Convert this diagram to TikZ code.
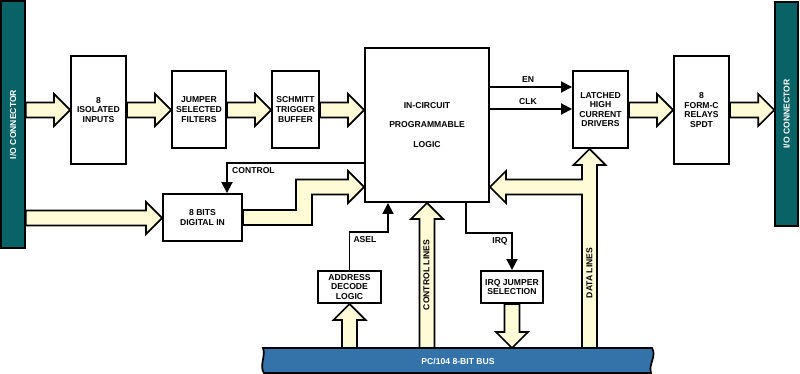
\documentclass[tikz,border=0pt]{standalone}
\usepackage{fontspec}
\setmainfont{Liberation Sans}
\usetikzlibrary{arrows.meta,calc}
\definecolor{conteal}{RGB}{8,98,102}
\definecolor{busblue}{RGB}{52,114,170}
\definecolor{cream}{RGB}{255,251,214}
\newcommand\fatR[3]{\draw[fat] let \p1=(#1), \p2=(#2), \p3=(#3) in
 (\x1,\y3+7.5pt) -- (\x2-16pt,\y3+7.5pt) -- (\x2-16pt,\y3+16pt) -- (\x2,\y3) -- (\x2-16pt,\y3-16pt) -- (\x2-16pt,\y3-7.5pt) -- (\x1,\y3-7.5pt) -- cycle;}
\newcommand\fatU[3]{\draw[fat] let \p1=(#1), \p2=(#2), \p3=(#3) in
 (\x3-7.5pt,\y1) -- (\x3-7.5pt,\y2-16pt) -- (\x3-16pt,\y2-16pt) -- (\x3,\y2) -- (\x3+16pt,\y2-16pt) -- (\x3+7.5pt,\y2-16pt) -- (\x3+7.5pt,\y1) -- cycle;}
\newcommand\fatD[3]{\draw[fat] let \p1=(#1), \p2=(#2), \p3=(#3) in
 (\x3-7.5pt,\y1) -- (\x3-7.5pt,\y2+16pt) -- (\x3-16pt,\y2+16pt) -- (\x3,\y2) -- (\x3+16pt,\y2+16pt) -- (\x3+7.5pt,\y2+16pt) -- (\x3+7.5pt,\y1) -- cycle;}
\tikzset{
  every node/.style={font=\fontsize{8.6}{9.6}\selectfont\bfseries},
  box/.style={draw, line width=1.9pt, fill=white, align=center, inner sep=0pt},
  fat/.style={draw, line width=1.7pt, fill=cream, line join=miter},
  sig/.style={line width=1.9pt, -{Triangle[length=11pt,width=11pt]}},
  lbl/.style={inner sep=0pt},
  conn/.style={draw=black, line width=1.5pt, fill=conteal, text=white, inner sep=0pt},
}
\begin{document}
\begin{tikzpicture}[x=1pt,y=-1pt]
\useasboundingbox (0,0) rectangle (800,374);
% level coordinates
\coordinate (rowY) at (0,110);
\coordinate (dinY) at (0,218);
\coordinate (midY) at (0,187);
\coordinate (stepX) at (304,0);
\coordinate (dX) at (589.5,0);
\coordinate (busT) at (0,348);
\coordinate (yEN) at (0,87);
\coordinate (yCLK) at (0,109);
\coordinate (cT) at (227,163);
\coordinate (aT) at (388,232);
\coordinate (iT) at (466,233);

% connectors and boxes
\node[conn, minimum width=24pt, minimum height=247pt] (lconn) at (13,124.5) {};
\node[text=white, rotate=90] at (lconn.center) {I/O CONNECTOR};
\node[conn, minimum width=23pt, minimum height=224pt] (rconn) at (786.5,114) {};
\node[text=white, rotate=90] at (rconn.center) {I/O CONNECTOR};

\node[box, minimum width=55pt, minimum height=108pt] (iso) at (98.5,110) {8\\ISOLATED\\INPUTS};
\node[box, minimum width=54pt, minimum height=77pt] (jmp) at (199,109.5) {JUMPER\\SELECTED\\FILTERS};
\node[box, minimum width=47pt, minimum height=77pt] (sch) at (295.5,109.5) {SCHMITT\\TRIGGER\\BUFFER};
\node[box, minimum width=124pt, minimum height=154pt] (pld) at (427,125) {IN-CIRCUIT\\[10pt]PROGRAMMABLE\\[10pt]LOGIC};
\node[box, minimum width=55pt, minimum height=77pt] (lat) at (600.5,109.5) {LATCHED\\HIGH\\CURRENT\\DRIVERS};
\node[box, minimum width=55pt, minimum height=108pt] (relay) at (701.5,110) {8\\FORM-C\\RELAYS\\SPDT};
\node[box, minimum width=79pt, minimum height=47pt] (din) at (202.5,217.5) {8 BITS\\DIGITAL IN};
\node[box, minimum width=63pt, minimum height=32pt] (adr) at (349.5,287) {ADDRESS\\DECODE\\LOGIC};
\node[box, minimum width=62pt, minimum height=32pt] (irqj) at (512,287) {IRQ JUMPER\\SELECTION};

% fat arrows
\fatR{lconn.east}{iso.west}{rowY}
\fatR{iso.east}{jmp.west}{rowY}
\fatR{jmp.east}{sch.west}{rowY}
\fatR{sch.east}{pld.west}{rowY}
\fatR{lat.east}{relay.west}{rowY}
\fatR{relay.east}{rconn.west}{rowY}
\fatR{lconn.east}{din.west}{dinY}
\draw[fat] let \p1=(din.east), \p2=(pld.west), \p3=(midY), \p4=(stepX) in
 (\x1,\y1-7.5pt) -- (\x4+8pt,\y1-7.5pt) -- (\x4+8pt,\y3-7.5pt) -- (\x2-16pt,\y3-7.5pt) -- (\x2-16pt,\y3-16pt) -- (\x2,\y3) -- (\x2-16pt,\y3+16pt) -- (\x2-16pt,\y3+7.5pt) -- (\x4-8pt,\y3+7.5pt) -- (\x4-8pt,\y1+7.5pt) -- (\x1,\y1+7.5pt) -- cycle;
\fatU{adr.south |- busT}{adr.south}{adr.south}
\fatU{pld.south |- busT}{pld.south}{pld.south}
\fatD{irqj.south}{irqj.south |- busT}{irqj.south}
\draw[fat] let \p1=(busT), \p2=(lat.south), \p3=(pld.east), \p4=(midY), \p5=(dX) in
 (\x5-7.5pt,\y1) -- (\x5-7.5pt,\y4-7.5pt) -- (\x3+16pt,\y4-7.5pt) -- (\x3+16pt,\y4-16pt) -- (\x3,\y4) -- (\x3+16pt,\y4+16pt) -- (\x3+16pt,\y4+7.5pt) -- (\x5-7.5pt,\y4+7.5pt) -- (\x5-7.5pt,\y2-16pt) -- (\x5-16pt,\y2-16pt) -- (\x5,\y2) -- (\x5+16pt,\y2-16pt) -- (\x5+7.5pt,\y2-16pt) -- (\x5+7.5pt,\y1) -- cycle;

% bus
\draw[line width=1.7pt, fill=busblue] (263,348) -- (652,348) .. controls (657,356) and (648,365) .. (651,373) -- (264,373) .. controls (259,366) and (266,356) .. (263,348) -- cycle;
\node[text=white, lbl] (buslbl) at (458,361) {PC/104 8-BIT BUS};

% signal lines
\draw[sig] (pld.east |- yEN) -- (lat.west |- yEN);
\draw[sig] (pld.east |- yCLK) -- (lat.west |- yCLK);
\draw[sig] (pld.west |- cT) -- (cT) -- (cT |- din.north);
\draw[sig] (adr.north) |- (aT) -- (aT |- pld.south);
\draw[sig] (iT |- pld.south) -- (iT) -| (irqj.north);

% labels
\node[lbl] (enl) at (528,80) {EN};
\node[lbl] (clkl) at (528,102) {CLK};
\node[lbl, anchor=west] (ctll) at (232,171) {CONTROL};
\node[lbl] (asell) at (365,240) {ASEL};
\node[lbl] (irql) at (500,241) {IRQ};
\node[lbl, rotate=90] (cll) at (426.5,275) {CONTROL LINES};
\node[lbl, rotate=90] (dll) at (589.5,273) {DATA LINES};
\end{tikzpicture}
\end{document}
